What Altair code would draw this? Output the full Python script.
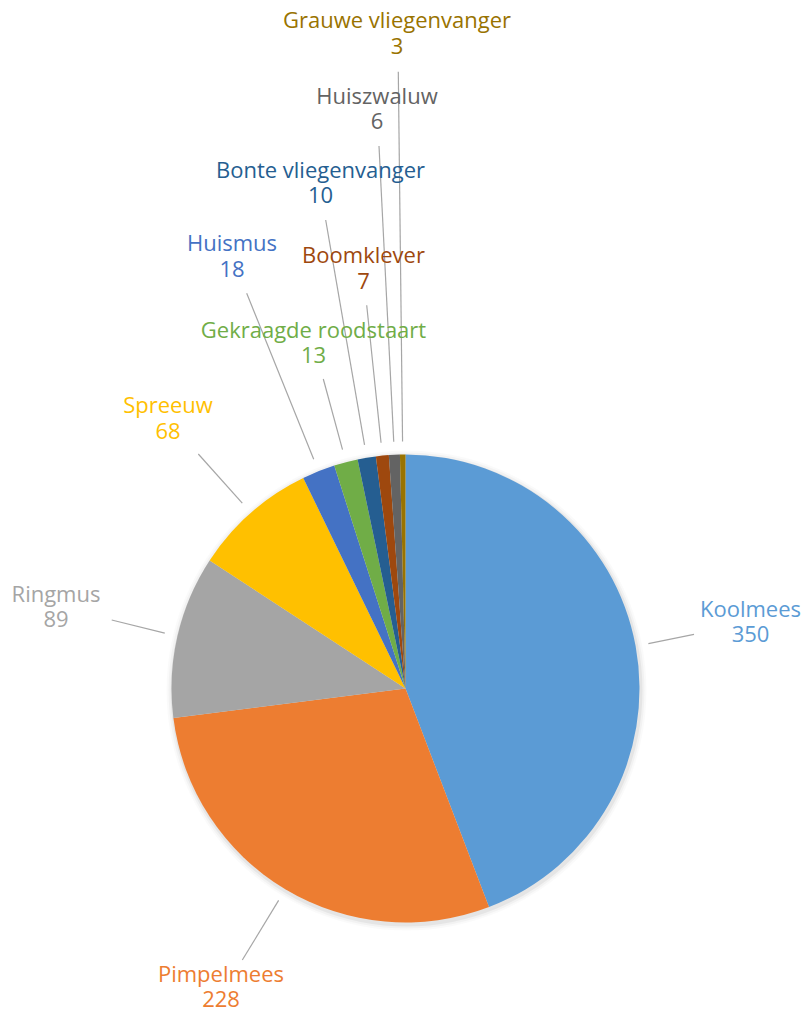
import math
import altair as alt
import pandas as pd

species = ["Koolmees", "Pimpelmees", "Ringmus", "Spreeuw", "Huismus",
           "Gekraagde roodstaart", "Bonte vliegenvanger", "Boomklever",
           "Huiszwaluw", "Grauwe vliegenvanger"]
counts = [350, 228, 89, 68, 18, 13, 10, 7, 6, 3]
colors = ["#5B9BD5", "#ED7D31", "#A5A5A5", "#FFC000", "#4472C4",
          "#70AD47", "#255E91", "#9E480E", "#636363", "#997300"]

# label layout (page pixels): text centre x and first-line baseline y
label_x = [750.5, 221, 56, 168, 232, 313.5, 320.5, 363.5, 377, 397]
label_y = [616.5, 981.5, 601.5, 413, 251, 337.5, 177.5, 263, 103.5, 28]
# leader line end points near the labels (page pixels)
leader_x = [694, 242.3, 111.7, 198.3, 246.7, 323.3, 325.7, 366.7, 379, 398.3]
leader_y = [634.3, 960, 620, 454, 293.3, 379, 220, 305.3, 146, 71.7]

M = 8
W, H = 809 - 2 * M, 1018 - 2 * M
CX, CY, R = 405.5 - M, 688.5 - M, 234
LEAD_R = 247
LINE_H = 25.5

total = sum(counts)
rows = []
cum = 0
for i, (s, c) in enumerate(zip(species, counts)):
    mid = (cum + c / 2) / total * 2 * math.pi
    cum += c
    rows.append({
        "idx": i, "species": s, "count": c,
        "lx": label_x[i] - M, "ly": label_y[i] - M, "ly2": label_y[i] - M + LINE_H,
        "sx": CX + LEAD_R * math.sin(mid), "sy": CY - LEAD_R * math.cos(mid),
        "ex": leader_x[i] - M, "ey": leader_y[i] - M,
    })
df = pd.DataFrame(rows)

color = alt.Color("species:N", scale=alt.Scale(domain=species, range=colors), legend=None)

one = pd.DataFrame({"a": [0]})
shadows = [
    alt.Chart(one).mark_arc(radius=R + k, theta=0, theta2=2 * math.pi,
                            color="#000000", opacity=op)
    .encode(x=alt.value(CX + 1), y=alt.value(CY + 2))
    for k, op in [(6, 0.02), (4, 0.03), (2, 0.05)]
]

pie = alt.Chart(df).mark_arc(radius=R).encode(
    theta=alt.Theta("count:Q", stack=True),
    color=color,
    order=alt.Order("idx:Q"),
    x=alt.value(CX), y=alt.value(CY),
)

rules = alt.Chart(df).mark_rule(color="#A6A6A6", strokeWidth=1.2).encode(
    x=alt.X("sx:Q", scale=None, axis=None),
    y=alt.Y("sy:Q", scale=None, axis=None),
    x2="ex:Q", y2="ey:Q",
)

FS = 22
names = alt.Chart(df).mark_text(font="Open Sans", fontSize=FS, align="center",
                                baseline="alphabetic").encode(
    x=alt.X("lx:Q", scale=None, axis=None),
    y=alt.Y("ly:Q", scale=None, axis=None),
    text="species:N", color=color,
)
values = alt.Chart(df).mark_text(font="Open Sans", fontSize=FS, align="center",
                                 baseline="alphabetic").encode(
    x=alt.X("lx:Q", scale=None, axis=None),
    y=alt.Y("ly2:Q", scale=None, axis=None),
    text="count:Q", color=color,
)

chart = alt.layer(*shadows, pie, rules, names, values).properties(
    width=W, height=H, padding=0, autosize="none"
).configure_view(stroke=None)

chart.save("out.html", embed_options={"renderer": "svg", "actions": False})
